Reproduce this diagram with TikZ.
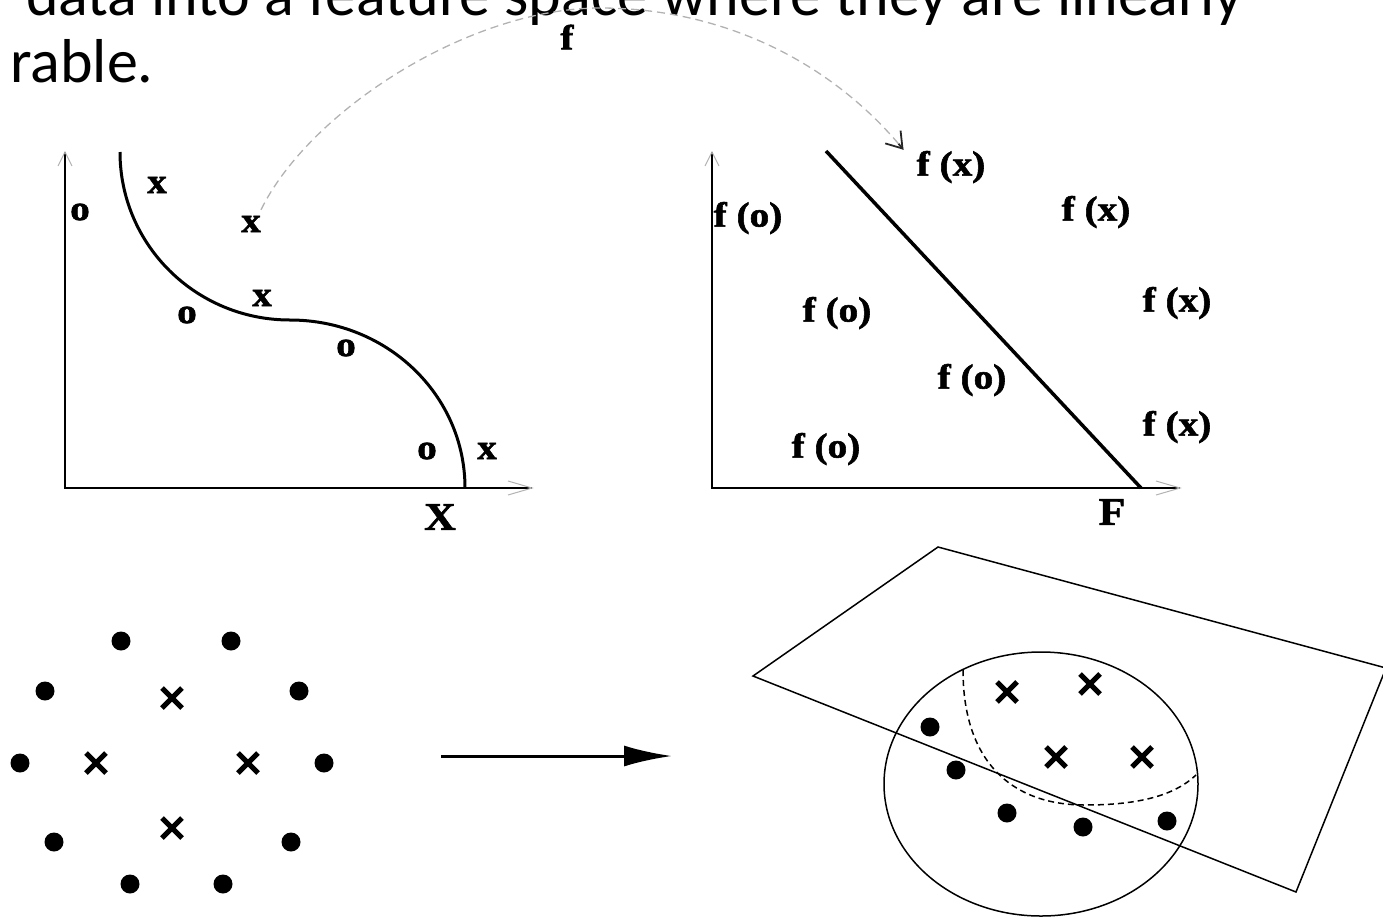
\documentclass[tikz,border=0pt]{standalone}
\usepackage{fontspec}
\setmainfont{Carlito}
\newfontfamily\figfont[FakeStretch=1.12, FakeBold=1.6]{Liberation Serif Bold}
\usetikzlibrary{arrows.meta, positioning, shapes.misc}

\begin{document}
\begin{tikzpicture}[
    x=1pt, y=-1pt,
    title/.style={anchor=base west, inner sep=0pt, font=\fontsize{62}{68}\selectfont},
    lbl/.style={inner sep=0pt, font=\figfont\fontsize{35}{35}\selectfont},
    axlbl/.style={inner sep=0pt, font=\figfont\fontsize{39}{39}\selectfont},
    axis/.style={draw, line width=2pt},
    axtip/.style={draw=black!30, line width=1pt},
    dot/.style={circle, fill, inner sep=0pt, minimum size=19pt},
    crossmark/.style={cross out, draw, inner sep=0pt, minimum size=15pt, line width=5pt},
    plane/.style={draw, line width=1.5pt},
    mapline/.style={draw=black!30, line width=1.3pt, dash pattern=on 8pt off 5pt},
    maptip/.style={draw=black!85, line width=1.8pt, -{Straight Barb[length=15pt, width=20pt]}},
    line/.style={draw, line width=3pt, -{Latex[length=48pt, width=21pt]}}
]
    \useasboundingbox (0,0) rectangle (1383,919);
    \clip (0,0) rectangle (1383,919);

    % Slide text, cut off by the frame
    \node [title] (T_line1) at (26,15) {data into a feature space where they are linearly};
    \node [title] (T_line2) at (10,82) {rable.};

    % Input space X
    \draw [axis] (65,152) -- (65,488) -- (532,488);
    \draw [axtip] (58,166) -- (65,152) -- (72,166);
    \draw [axtip] (508,481) -- (532,488) -- (508,495);
    \draw [line width=3pt] (120,152) .. controls (120,245) and (196,320) .. (290,320)
        .. controls (387,320) and (465,395) .. (465,488);
    \node [lbl] (L_o1) at (80,212) {o};
    \node [lbl] (L_x1) at (157,185) {x};
    \node [lbl] (L_x2) at (251,224) {x};
    \node [lbl] (L_x3) at (262,298) {x};
    \node [lbl] (L_o2) at (187,315) {o};
    \node [lbl] (L_o3) at (346,348) {o};
    \node [lbl] (L_o4) at (427,451) {o};
    \node [lbl] (L_x4) at (487,451) {x};
    \node [axlbl] (L_X) at (440,517) {X};

    % Feature space F
    \draw [axis] (712,152) -- (712,488) -- (1180,488);
    \draw [axtip] (705,166) -- (712,152) -- (719,166);
    \draw [axtip] (1156,481) -- (1180,488) -- (1156,495);
    \draw [line width=3.5pt] (826,151) -- (1141,488);
    \node [lbl] (R_fx1) at (951,167) {f (x)};
    \node [lbl] (R_fx2) at (1096,212) {f (x)};
    \node [lbl] (R_fx3) at (1177,303) {f (x)};
    \node [lbl] (R_fx4) at (1177,427) {f (x)};
    \node [lbl] (R_fo1) at (748,218) {f (o)};
    \node [lbl] (R_fo2) at (837,313) {f (o)};
    \node [lbl] (R_fo3) at (972,380) {f (o)};
    \node [lbl] (R_fo4) at (826,449) {f (o)};
    \node [axlbl] (R_F) at (1112,512) {F};

    % Mapping f
    \node [lbl] (M_f) at (567,37) {f};
    \coordinate (M_tip) at ([xshift=-13pt,yshift=1pt]R_fx1.north west);
    \path [mapline] ([yshift=6pt]L_x2.north east) .. controls (310,110) and (470,8) .. (600,8)
        .. controls (720,8) and (830,60) .. (M_tip);
    \path [maptip] ([shift={(-5,-6)}]M_tip) -- (M_tip);

    % Points in the plane
    \node [dot] (B_d1) at (121,641) {};
    \node [dot] (B_d2) at (231,641) {};
    \node [dot] (B_d3) at (45,691) {};
    \node [dot] (B_d4) at (299,691) {};
    \node [dot] (B_d5) at (20,763) {};
    \node [dot] (B_d6) at (324,763) {};
    \node [dot] (B_d7) at (54,842) {};
    \node [dot] (B_d8) at (291,842) {};
    \node [dot] (B_d9) at (130,884) {};
    \node [dot] (B_d10) at (223,884) {};
    \node [crossmark] (B_c1) at (172,698) {};
    \node [crossmark] (B_c2) at (96,763) {};
    \node [crossmark] (B_c3) at (248,763) {};
    \node [crossmark] (B_c4) at (172,828) {};

    % Arrow between the two
    \coordinate (A_from) at (441,756);
    \coordinate (A_to) at (672,756);
    \path [line] (A_from) -- (A_to);

    % Points on the sphere, cut by a plane
    \draw [plane] (938,547) -- (1386,668) -- (1296,892) -- (753,676) -- cycle;
    \draw [plane] (1041,784) ellipse [x radius=157, y radius=132];
    \draw [plane, dash pattern=on 6pt off 4pt] (963,670) .. controls (963,760) and (1010,805) .. (1085,805)
        .. controls (1140,805) and (1175,795) .. (1196,775);
    \node [dot] (S_d1) at (930,727) {};
    \node [dot] (S_d2) at (956,770) {};
    \node [dot] (S_d3) at (1007,813) {};
    \node [dot] (S_d4) at (1083,827) {};
    \node [dot] (S_d5) at (1167,821) {};
    \node [crossmark] (S_c1) at (1007,692) {};
    \node [crossmark] (S_c2) at (1090,684) {};
    \node [crossmark] (S_c3) at (1056,757) {};
    \node [crossmark] (S_c4) at (1142,757) {};
\end{tikzpicture}
\end{document}
